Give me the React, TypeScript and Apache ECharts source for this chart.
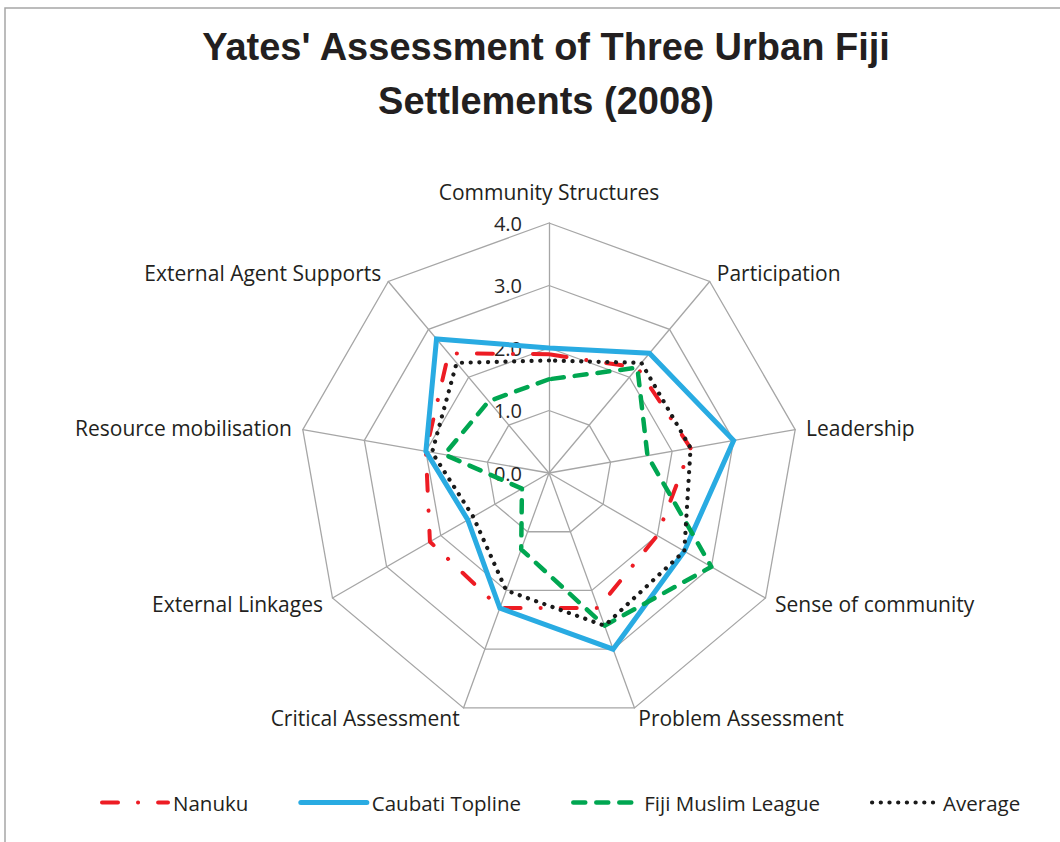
import React, { useEffect, useRef } from "react";
import * as echarts from "echarts";

// ---- data (clockwise from top, as in the reference) ----
const indicators = [
  "Community Structures",
  "Participation",
  "Leadership",
  "Sense of community",
  "Problem Assessment",
  "Critical Assessment",
  "External Linkages",
  "Resource mobilisation",
  "External Agent Supports",
];
const nanuku = [1.9, 2.2, 2.3, 2.0, 2.3, 2.3, 2.2, 2.0, 2.5];
const caubati = [2.0, 2.5, 3.0, 2.5, 3.0, 2.3, 1.5, 2.0, 2.8];
const fijiMuslimLeague = [1.5, 2.2, 1.6, 3.0, 2.6, 1.3, 0.5, 1.7, 1.5];
const average = [1.8, 2.3, 2.3, 2.5, 2.6, 2.0, 1.4, 1.9, 2.3];
const axisMin = 0;
const axisMax = 4;
const splitCount = 4;
const seriesNames = ["Nanuku", "Caubati Topline", "Fiji Muslim League", "Average"];
const seriesValues = [nanuku, caubati, fijiMuslimLeague, average];
const titleText = "Yates' Assessment of Three Urban Fiji\nSettlements (2008)";

// ECharts places radar indicators counter-clockwise; reorder to get clockwise.
const toClockwise = <T,>(arr: T[]): T[] => [arr[0], ...arr.slice(1).reverse()];

const lineStyles: any[] = [
  { color: "#ed1c24", width: 4, type: [16, 20, 0.1, 20], cap: "round", join: "round" },
  { color: "#29abe2", width: 5, type: "solid", cap: "round", join: "miter" },
  { color: "#00a651", width: 4.5, type: [12, 11], cap: "round", join: "round" },
  { color: "#1a1a1a", width: 4.2, type: [0.1, 8.6], cap: "round", join: "round" },
];

const FONT = "Open Sans";
const GRID_COLOR = "#a6a6a6";
const TEXT_COLOR = "#231f20";

export default function App() {
  const ref = useRef<HTMLDivElement>(null);
  useEffect(() => {
    if (!ref.current) return;
    const chart = echarts.init(ref.current, undefined, { renderer: "svg" });

    const legendSeries = seriesNames.map((name, i) => ({
      type: "line",
      name,
      data: [],
      symbol: "none",
      xAxisIndex: 0,
      yAxisIndex: 0,
      lineStyle: lineStyles[i],
      itemStyle: { color: lineStyles[i].color },
    }));

    const radarSeries = seriesNames.map((name, i) => ({
      type: "radar",
      name,
      radarIndex: 0,
      symbol: "none",
      lineStyle: lineStyles[i],
      itemStyle: { color: lineStyles[i].color },
      data: [{ name, value: toClockwise(seriesValues[i]) }],
    }));

    chart.setOption({
      animation: false,
      backgroundColor: "#ffffff",
      title: {
        text: titleText,
        left: 541,
        top: 15,
        textAlign: "center",
        textStyle: {
          fontFamily: "Liberation Sans",
          fontWeight: "bold",
          fontSize: 38,
          lineHeight: 54,
          color: TEXT_COLOR,
        },
      },
      graphic: [
        {
          type: "polyline",
          shape: { points: [[5, 842], [5, 8], [1060, 8]] },
          style: { stroke: GRID_COLOR, lineWidth: 1.5, fill: "none" },
          silent: true,
        },
      ],
      grid: { show: false, left: 0, top: 0, width: 10, height: 10 },
      xAxis: { type: "category", show: false, data: [] },
      yAxis: { type: "value", show: false },
      legend: {
        left: 100,
        top: 792,
        padding: 0,
        itemWidth: 66,
        itemHeight: 6,
        itemGap: 50,
        itemStyle: { opacity: 0 },
        textStyle: { fontFamily: FONT, fontSize: 20.5, color: TEXT_COLOR },
        data: seriesNames.map((name, i) => ({
          name,
          lineStyle: { width: lineStyles[i].width },
        })),
      },
      radar: [
        {
          center: [549, 473],
          radius: 250,
          startAngle: 90,
          shape: "polygon",
          splitNumber: splitCount,
          nameGap: 11,
          indicator: toClockwise(indicators).map((name) => ({ name, min: axisMin, max: axisMax })),
          axisName: {
            color: TEXT_COLOR,
            fontSize: 21,
            fontFamily: FONT,
            formatter: (name: string) => (name === indicators[0] ? `{top|${name}}` : name),
            rich: {
              top: { color: TEXT_COLOR, fontSize: 21, fontFamily: FONT, padding: [0, 0, 10, 0] },
            },
          },
          splitLine: { lineStyle: { color: GRID_COLOR, width: 1.3 } },
          splitArea: { show: false },
          axisLine: { lineStyle: { color: GRID_COLOR, width: 1.3 } },
          axisTick: { show: false },
          axisLabel: { show: false },
        },
        {
          center: [549, 473],
          radius: 250,
          startAngle: 90,
          shape: "polygon",
          splitNumber: splitCount,
          indicator: [{ name: "", min: axisMin, max: axisMax }],
          axisName: { show: false },
          splitLine: { show: false },
          splitArea: { show: false },
          axisLine: { show: false },
          axisTick: { show: false },
          axisLabel: {
            show: true,
            margin: 27,
            fontSize: 20,
            fontFamily: FONT,
            color: "#262626",
            formatter: (v: any) => Number(v).toFixed(1),
          },
        },
      ],
      series: [...legendSeries, ...radarSeries],
    });

    return () => chart.dispose();
  }, []);

  return (
    <div
      ref={ref}
      style={{ position: "absolute", left: 0, top: 0, width: 1060, height: 842 }}
    />
  );
}
